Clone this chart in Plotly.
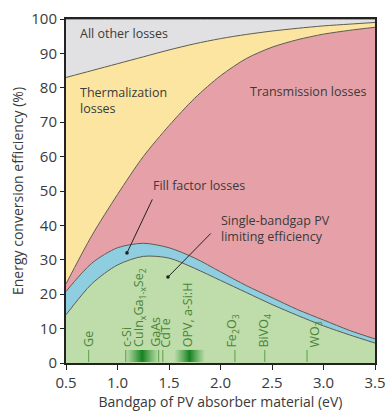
import plotly.graph_objects as go

# ---- data ----
bandgap = [0.5, 0.75, 1.0, 1.25, 1.5, 1.75, 2.0, 2.25, 2.5, 2.75, 3.0, 3.25, 3.5]
limiting_eff = [14.0, 23.0, 28.5, 31.0, 30.5, 27.5, 24.0, 20.5, 17.0, 13.8, 10.8, 8.2, 5.8]
fill_factor_top = [20.8, 29.0, 33.5, 34.8, 33.5, 30.5, 26.5, 22.5, 19.0, 15.5, 12.5, 9.5, 7.0]
transmission_top = [23.0, 37.0, 49.0, 60.0, 69.0, 77.0, 83.5, 88.5, 91.8, 94.0, 95.6, 96.7, 97.6]
thermal_top = [83.0, 85.0, 87.0, 89.0, 91.0, 92.8, 94.3, 95.5, 96.5, 97.3, 98.0, 98.5, 99.0]

materials = ["Ge", "c-Si", "CuIn<sub>x</sub>Ga<sub>1-x</sub>Se<sub>2</sub>", "GaAs", "CdTe",
             "OPV, a-Si:H", "Fe<sub>2</sub>O<sub>3</sub>", "BiVO<sub>4</sub>", "WO<sub>3</sub>"]
material_label_x = [0.72, 1.08, 1.22, 1.37, 1.47, 1.68, 2.12, 2.43, 2.92]
material_line_x = [0.72, 1.08, 1.40, 1.44, 2.14, 2.43, 2.84]

band_ranges = [(1.08, 1.40), (1.55, 1.85)]

FONT = "Open Sans"
TXT = "#3a3a3a"
EDGE = "#5b5b4e"
GREEN_TXT = "#4a8638"

fig = go.Figure()

# baseline
fig.add_trace(go.Scatter(x=bandgap, y=[0] * len(bandgap), mode="lines",
                         line=dict(width=0), showlegend=False, hoverinfo="skip"))
layers = [
    (limiting_eff, "#bfdcab"),
    (fill_factor_top, "#8fcde0"),
    (transmission_top, "#e6a1a8"),
    (thermal_top, "#fbe5a0"),
    ([100] * len(bandgap), "#e1e1e3"),
]
for ys, col in layers:
    fig.add_trace(go.Scatter(x=bandgap, y=ys, mode="lines", fill="tonexty", fillcolor=col,
                             line=dict(color=EDGE, width=1, shape="spline", smoothing=0.8),
                             showlegend=False, hoverinfo="skip"))

# green gradient bands
for lo, hi in band_ranges:
    fig.add_trace(go.Scatter(x=[lo, hi, hi, lo, lo], y=[0.3, 0.3, 3.8, 3.8, 0.3], mode="lines",
                             fill="toself", line=dict(width=0),
                             fillgradient=dict(type="horizontal",
                                               colorscale=[[0, "rgba(40,150,50,0)"],
                                                           [0.5, "rgba(20,130,30,1)"],
                                                           [1, "rgba(40,150,50,0)"]]),
                             showlegend=False, hoverinfo="skip"))

# material tick lines
for mx in material_line_x:
    fig.add_trace(go.Scatter(x=[mx, mx], y=[0.3, 3.8], mode="lines",
                             line=dict(color="#5aa04a", width=1),
                             showlegend=False, hoverinfo="skip"))

annotations = []
for name, lx in zip(materials, material_label_x):
    annotations.append(dict(x=lx, y=4.0, xref="x", yref="y", text=name, textangle=-90,
                            showarrow=False, xanchor="center", yanchor="bottom",
                            font=dict(family=FONT, size=12.5, color=GREEN_TXT)))

region_labels = [
    ("All other losses", 0.62, 95.9, "left"),
    ("Thermalization<br>losses", 0.62, 76.2, "left"),
    ("Transmission losses", 2.27, 78.8, "left"),
    ("Fill factor losses", 1.33, 51.5, "left"),
    ("Single-bandgap PV<br>limiting efficiency", 1.99, 39.0, "left"),
]
for txt, x, y, anc in region_labels:
    annotations.append(dict(x=x, y=y, xref="x", yref="y", text=txt, showarrow=False,
                            xanchor=anc, yanchor="middle", align="left",
                            font=dict(family=FONT, size=12.5, color=TXT)))

# pointer lines with dots
pointers = [((1.345, 48.0), (1.092, 32.0)), ((1.92, 38.1), (1.49, 25.0))]
for (sx, sy), (ex, ey) in pointers:
    annotations.append(dict(x=ex, y=ey, ax=sx, ay=sy, xref="x", yref="y", axref="x", ayref="y",
                            text="", showarrow=True, arrowhead=6, arrowsize=0.9,
                            arrowwidth=1, arrowcolor="#222"))

fig.update_layout(
    width=387, height=412,
    margin=dict(l=66, r=12, t=19, b=49, autoexpand=False),
    plot_bgcolor="white", paper_bgcolor="white",
    annotations=annotations,
    font=dict(family=FONT, color=TXT),
    xaxis=dict(range=[0.5, 3.5], tickvals=[0.5, 1.0, 1.5, 2.0, 2.5, 3.0, 3.5],
               ticktext=["0.5", "1.0", "1.5", "2.0", "2.5", "3.0", "3.5"],
               automargin=False,
               showgrid=False, zeroline=False, showline=True, linecolor="#222", linewidth=2,
               mirror=True, ticks="outside", ticklen=5, tickcolor="#222",
               tickfont=dict(family=FONT, size=15, color=TXT),
               title=dict(text="Bandgap of PV absorber material (eV)", standoff=6,
                          font=dict(family=FONT, size=14, color=TXT))),
    yaxis=dict(range=[0, 100], tickvals=list(range(0, 101, 10)),
               automargin=False,
               showgrid=False, zeroline=False, showline=True, linecolor="#222", linewidth=2,
               mirror=True, ticks="outside", ticklen=4, tickcolor="#222",
               tickfont=dict(family=FONT, size=15, color=TXT),
               title=dict(text="Energy conversion efficiency (%)", standoff=4,
                          font=dict(family=FONT, size=14, color=TXT))),
)

fig.write_html("out.html")
